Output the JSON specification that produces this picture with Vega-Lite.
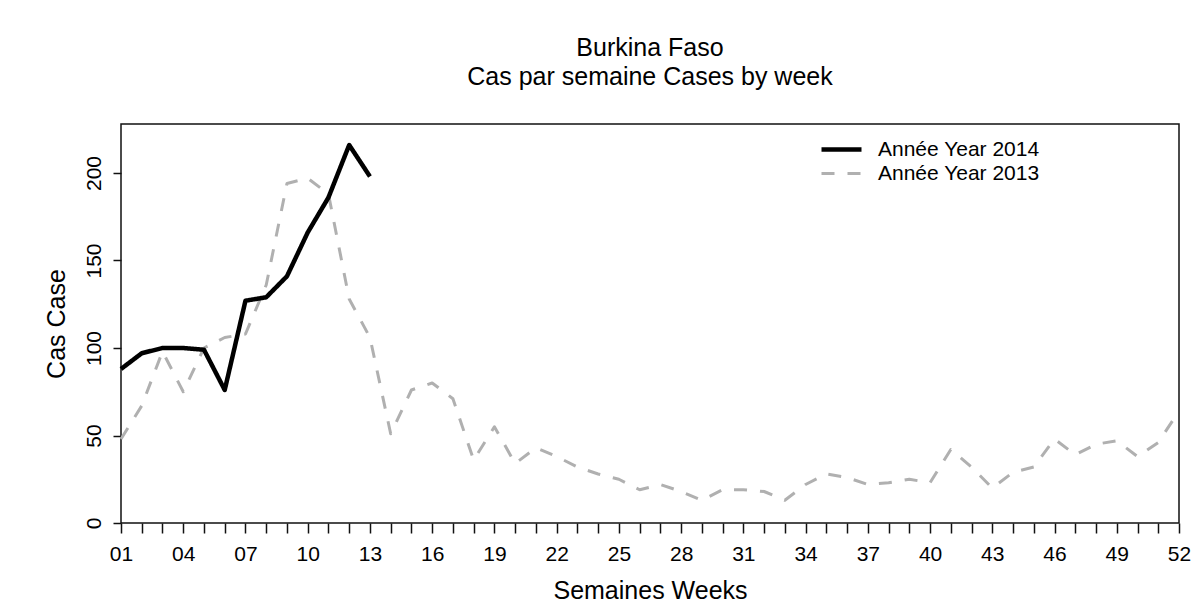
{
  "$schema": "https://vega.github.io/schema/vega-lite/v6.json",
  "width": 1058,
  "height": 399,
  "autosize": {"type": "none"},
  "padding": {"left": 121, "top": 124, "right": 23, "bottom": 80},
  "background": "white",
  "config": {
    "font": "Liberation Sans",
    "view": {"stroke": "#111111", "strokeWidth": 1.5},
    "axis": {
      "domain": false,
      "grid": false,
      "tickColor": "#111111",
      "tickWidth": 1.5,
      "labelColor": "#000000",
      "titleColor": "#000000",
      "labelFont": "Liberation Sans",
      "titleFont": "Liberation Sans",
      "labelFontSize": 21,
      "titleFontSize": 25,
      "titleFontWeight": "normal"
    }
  },
  "title": {
    "text": ["Burkina Faso", "Cas par semaine Cases by week"],
    "font": "Liberation Sans",
    "fontSize": 25,
    "fontWeight": "normal",
    "color": "#000000",
    "lineHeight": 29,
    "anchor": "middle",
    "offset": 34
  },
  "data": {
    "values": [
      {"annee": "Année Year 2013", "semaine": 1, "cas": 48},
      {"annee": "Année Year 2013", "semaine": 2, "cas": 67},
      {"annee": "Année Year 2013", "semaine": 3, "cas": 98},
      {"annee": "Année Year 2013", "semaine": 4, "cas": 75},
      {"annee": "Année Year 2013", "semaine": 5, "cas": 100},
      {"annee": "Année Year 2013", "semaine": 6, "cas": 106},
      {"annee": "Année Year 2013", "semaine": 7, "cas": 108},
      {"annee": "Année Year 2013", "semaine": 8, "cas": 136},
      {"annee": "Année Year 2013", "semaine": 9, "cas": 194},
      {"annee": "Année Year 2013", "semaine": 10, "cas": 197},
      {"annee": "Année Year 2013", "semaine": 11, "cas": 188},
      {"annee": "Année Year 2013", "semaine": 12, "cas": 128},
      {"annee": "Année Year 2013", "semaine": 13, "cas": 106},
      {"annee": "Année Year 2013", "semaine": 14, "cas": 51},
      {"annee": "Année Year 2013", "semaine": 15, "cas": 76},
      {"annee": "Année Year 2013", "semaine": 16, "cas": 80},
      {"annee": "Année Year 2013", "semaine": 17, "cas": 71},
      {"annee": "Année Year 2013", "semaine": 18, "cas": 36},
      {"annee": "Année Year 2013", "semaine": 19, "cas": 55},
      {"annee": "Année Year 2013", "semaine": 20, "cas": 34},
      {"annee": "Année Year 2013", "semaine": 21, "cas": 43},
      {"annee": "Année Year 2013", "semaine": 22, "cas": 38},
      {"annee": "Année Year 2013", "semaine": 23, "cas": 32},
      {"annee": "Année Year 2013", "semaine": 24, "cas": 28},
      {"annee": "Année Year 2013", "semaine": 25, "cas": 25},
      {"annee": "Année Year 2013", "semaine": 26, "cas": 19},
      {"annee": "Année Year 2013", "semaine": 27, "cas": 22},
      {"annee": "Année Year 2013", "semaine": 28, "cas": 18},
      {"annee": "Année Year 2013", "semaine": 29, "cas": 13},
      {"annee": "Année Year 2013", "semaine": 30, "cas": 19},
      {"annee": "Année Year 2013", "semaine": 31, "cas": 19},
      {"annee": "Année Year 2013", "semaine": 32, "cas": 18},
      {"annee": "Année Year 2013", "semaine": 33, "cas": 13},
      {"annee": "Année Year 2013", "semaine": 34, "cas": 22},
      {"annee": "Année Year 2013", "semaine": 35, "cas": 28},
      {"annee": "Année Year 2013", "semaine": 36, "cas": 26},
      {"annee": "Année Year 2013", "semaine": 37, "cas": 22},
      {"annee": "Année Year 2013", "semaine": 38, "cas": 23},
      {"annee": "Année Year 2013", "semaine": 39, "cas": 25},
      {"annee": "Année Year 2013", "semaine": 40, "cas": 23},
      {"annee": "Année Year 2013", "semaine": 41, "cas": 42},
      {"annee": "Année Year 2013", "semaine": 42, "cas": 32},
      {"annee": "Année Year 2013", "semaine": 43, "cas": 20},
      {"annee": "Année Year 2013", "semaine": 44, "cas": 29},
      {"annee": "Année Year 2013", "semaine": 45, "cas": 32},
      {"annee": "Année Year 2013", "semaine": 46, "cas": 48},
      {"annee": "Année Year 2013", "semaine": 47, "cas": 39},
      {"annee": "Année Year 2013", "semaine": 48, "cas": 45},
      {"annee": "Année Year 2013", "semaine": 49, "cas": 47},
      {"annee": "Année Year 2013", "semaine": 50, "cas": 38},
      {"annee": "Année Year 2013", "semaine": 51, "cas": 46},
      {"annee": "Année Year 2013", "semaine": 52, "cas": 64},
      {"annee": "Année Year 2014", "semaine": 1, "cas": 88},
      {"annee": "Année Year 2014", "semaine": 2, "cas": 97},
      {"annee": "Année Year 2014", "semaine": 3, "cas": 100},
      {"annee": "Année Year 2014", "semaine": 4, "cas": 100},
      {"annee": "Année Year 2014", "semaine": 5, "cas": 99},
      {"annee": "Année Year 2014", "semaine": 6, "cas": 76},
      {"annee": "Année Year 2014", "semaine": 7, "cas": 127},
      {"annee": "Année Year 2014", "semaine": 8, "cas": 129},
      {"annee": "Année Year 2014", "semaine": 9, "cas": 141},
      {"annee": "Année Year 2014", "semaine": 10, "cas": 166},
      {"annee": "Année Year 2014", "semaine": 11, "cas": 186},
      {"annee": "Année Year 2014", "semaine": 12, "cas": 216},
      {"annee": "Année Year 2014", "semaine": 13, "cas": 198}
    ]
  },
  "mark": {"type": "line", "strokeCap": "butt", "strokeJoin": "round"},
  "encoding": {
    "x": {
      "field": "semaine",
      "type": "quantitative",
      "scale": {"domain": [1, 52], "nice": false, "zero": false},
      "axis": {
        "title": "Semaines Weeks",
        "values": [1,2,3,4,5,6,7,8,9,10,11,12,13,14,15,16,17,18,19,20,21,22,23,24,25,26,27,28,29,30,31,32,33,34,35,36,37,38,39,40,41,42,43,44,45,46,47,48,49,50,51,52],
        "labelExpr": "(datum.value - 1) % 3 == 0 ? (datum.value < 10 ? '0' + datum.value : '' + datum.value) : ''",
        "tickSize": 10,
        "labelPadding": 10,
        "labelOverlap": false,
        "labelFlush": false,
        "titlePadding": 14
      }
    },
    "y": {
      "field": "cas",
      "type": "quantitative",
      "scale": {"domain": [0, 228], "nice": false},
      "axis": {
        "title": "Cas Case",
        "values": [0, 50, 100, 150, 200],
        "tickSize": 8,
        "labelAngle": -90,
        "labelPadding": 9,
        "titlePadding": 14
      }
    },
    "color": {
      "field": "annee",
      "type": "nominal",
      "scale": {"domain": ["Année Year 2014", "Année Year 2013"], "range": ["#000000", "#b0b0b0"]},
      "legend": {
        "title": null,
        "orient": "none",
        "legendX": 708,
        "legendY": 13,
        "symbolType": "M-2,0H2",
        "symbolSize": 400,
        "labelFontSize": 21,
        "labelFont": "Liberation Sans",
        "labelColor": "#000000",
        "labelLimit": 400,
        "labelOffset": 24,
        "rowPadding": 2
      }
    },
    "strokeDash": {
      "field": "annee",
      "type": "nominal",
      "scale": {"domain": ["Année Year 2014", "Année Year 2013"], "range": [[1, 0], [13, 13]]}
    },
    "strokeWidth": {
      "field": "annee",
      "type": "nominal",
      "scale": {"domain": ["Année Year 2014", "Année Year 2013"], "range": [4.5, 3]}
    }
  }
}
